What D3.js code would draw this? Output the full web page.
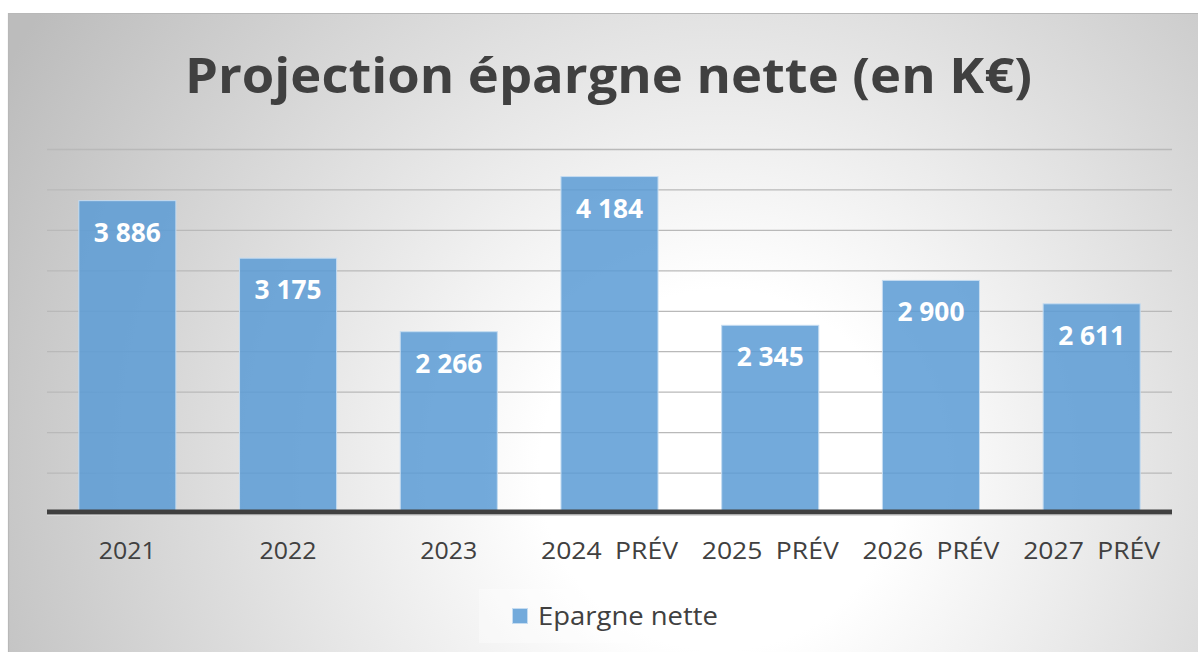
<!DOCTYPE html>
<html>
<head>
<meta charset="utf-8">
<script src="https://cdn.jsdelivr.net/npm/d3@7"></script>
<style>
  html, body { margin: 0; padding: 0; background: #ffffff; }
  svg { display: block; }
  text { font-family: "Open Sans", "DejaVu Sans", sans-serif; }
</style>
</head>
<body>
<svg id="chart" width="1198" height="652"></svg>
<script>
// ---- data ----
const categories = ["2021", "2022", "2023", "2024 PRÉV", "2025 PRÉV", "2026 PRÉV", "2027 PRÉV"];
const values = [3886, 3175, 2266, 4184, 2345, 2900, 2611];
const seriesName = "Epargne nette";
const title = "Projection épargne nette (en K€)";
const yTicks = [0, 500, 1000, 1500, 2000, 2500, 3000, 3500, 4000, 4500];

// ---- layout ----
const W = 1198, H = 652;
const svg = d3.select("#chart");
const frame = { x: 8, y: 13 };
const plot = { left: 47, right: 1172, top: 149.5, bottom: 513.5 };

const fr = d3.formatLocale({ decimal: ",", thousands: " ", grouping: [3], currency: ["", " €"] });
const fmt = fr.format(",d");

// background gradient
const defs = svg.append("defs");
const grad = defs.append("radialGradient")
  .attr("id", "bg").attr("gradientUnits", "userSpaceOnUse")
  .attr("cx", 720).attr("cy", 470).attr("r", 820)
  .attr("fx", 720).attr("fy", 470);
grad.append("stop").attr("offset", 0).attr("stop-color", "#ffffff");
grad.append("stop").attr("offset", 0.22).attr("stop-color", "#ffffff");
grad.append("stop").attr("offset", 1).attr("stop-color", "#bcbcbc");

svg.append("rect").attr("x", frame.x).attr("y", frame.y)
  .attr("width", W - frame.x).attr("height", H - frame.y)
  .attr("fill", "url(#bg)");
// frame border (top & left)
svg.append("line").attr("x1", frame.x).attr("x2", W).attr("y1", frame.y + 0.5).attr("y2", frame.y + 0.5)
  .attr("stroke", "#b8b8b8").attr("stroke-width", 1.2);
svg.append("line").attr("x1", frame.x + 0.5).attr("x2", frame.x + 0.5).attr("y1", frame.y).attr("y2", H)
  .attr("stroke", "#b8b8b8").attr("stroke-width", 1.2);

// scales
const x = d3.scaleBand().domain(categories).range([plot.left, plot.right]).paddingInner(0.396).paddingOuter(0.198);
const y = d3.scaleLinear().domain([0, 4500]).range([plot.bottom, plot.top]);

// gridlines
svg.append("g").selectAll("line").data(yTicks.filter(d => d > 0)).join("line")
  .attr("x1", plot.left).attr("x2", plot.right)
  .attr("y1", d => y(d)).attr("y2", d => y(d))
  .attr("stroke", "#b9b9b9").attr("stroke-width", 1.3);

// bars
const barColor = "#5b9bd5";
svg.append("g").selectAll("rect").data(values).join("rect")
  .attr("x", (d, i) => x(categories[i]))
  .attr("y", d => y(d) + 1.5)
  .attr("width", x.bandwidth())
  .attr("height", d => y(0) - y(d) - 4.5)
  .attr("fill", barColor).attr("fill-opacity", 0.85)
  .attr("stroke", "#c5dcf1").attr("stroke-width", 1);

// axis line
svg.append("line").attr("x1", plot.left).attr("x2", plot.right)
  .attr("y1", 512).attr("y2", 512)
  .attr("stroke", "#404040").attr("stroke-width", 5.2);
svg.append("line").attr("x1", plot.left).attr("x2", plot.right)
  .attr("y1", 515.3).attr("y2", 515.3)
  .attr("stroke", "#d8d8d8").attr("stroke-width", 1.2);

// x axis labels via d3 axis
const xAxis = svg.append("g").attr("transform", `translate(0,${540})`)
  .call(d3.axisBottom(x).tickSize(0).tickPadding(0));
xAxis.select(".domain").remove();
xAxis.selectAll("text")
  .attr("y", 19).attr("dy", 0)
  .attr("fill", "#404040")
  .style("font-size", "24.5px")
  .style("word-spacing", "6px")
  .attr("textLength", d => d.includes("PRÉV") ? 137 : 57)
  .attr("lengthAdjust", "spacingAndGlyphs");

// data labels
svg.append("g").selectAll("text").data(values).join("text")
  .attr("x", (d, i) => x(categories[i]) + x.bandwidth() / 2)
  .attr("y", d => y(d) + 42.5)
  .attr("text-anchor", "middle")
  .attr("fill", "#ffffff")
  .style("font-size", "26px").style("font-weight", "700")
  .attr("textLength", 67).attr("lengthAdjust", "spacingAndGlyphs")
  .text(d => fmt(d));

// title
svg.append("text")
  .attr("x", 185).attr("y", 93)
  .attr("fill", "#404040")
  .style("font-size", "48px").style("font-weight", "700")
  .attr("textLength", 847).attr("lengthAdjust", "spacingAndGlyphs")
  .text(title);

// legend
const lg = svg.append("g");
lg.append("rect").attr("x", 479).attr("y", 589).attr("width", 260).attr("height", 54)
  .attr("fill", "#ffffff").attr("fill-opacity", 0.35);
lg.append("rect").attr("x", 512.5).attr("y", 608.5).attr("width", 15).attr("height", 15)
  .attr("fill", barColor).attr("fill-opacity", 0.85)
  .attr("stroke", "#c5dcf1").attr("stroke-width", 1);
lg.append("text").attr("x", 538).attr("y", 625)
  .attr("fill", "#404040").style("font-size", "25px")
  .attr("textLength", 180).attr("lengthAdjust", "spacingAndGlyphs")
  .text(seriesName);
</script>
</body>
</html>
